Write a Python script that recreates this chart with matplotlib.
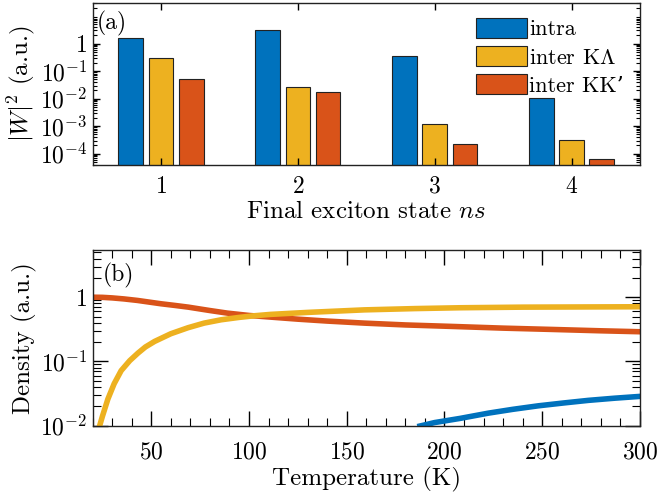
import numpy as np
import matplotlib
matplotlib.use("Agg")
import matplotlib.pyplot as plt
from matplotlib.ticker import FixedLocator, LogLocator, NullFormatter, MultipleLocator

plt.rcParams['font.family'] = ['cmr10', 'DejaVu Serif']
plt.rcParams['mathtext.fontset'] = 'cm'
plt.rcParams['axes.unicode_minus'] = False
plt.rcParams['axes.formatter.use_mathtext'] = True

# ---- Panel (a) data ----
states = [1, 2, 3, 4]
series_names = ['intra', r'inter K$\Lambda$', 'inter KK\u2019']
intra = [1.6, 3.0, 0.35, 0.0103]
inter_KL = [0.29, 0.026, 1.2e-3, 3.2e-4]
inter_KKp = [0.053, 0.0175, 2.2e-4, 6.3e-5]

# ---- Panel (b) data ----
T_red = [20, 25, 30, 36, 43, 50, 55, 62, 69, 75, 80, 89, 95, 100, 111, 125, 140, 159, 180, 205, 230, 255, 280, 300]
n_red = [1.0, 0.995, 0.975, 0.94, 0.89, 0.83, 0.79, 0.745, 0.70, 0.655, 0.62, 0.565, 0.54, 0.52, 0.49, 0.455, 0.425, 0.395, 0.37, 0.35, 0.33, 0.315, 0.30, 0.29]
T_yel = [23.6, 25, 27.8, 31, 34.6, 39, 43.2, 47, 51.7, 60, 68.8, 77, 85.7, 95, 103, 111, 130, 159, 185, 208, 240, 270, 300]
n_yel = [0.01, 0.014, 0.026, 0.045, 0.072, 0.103, 0.135, 0.168, 0.205, 0.27, 0.335, 0.395, 0.445, 0.485, 0.515, 0.54, 0.58, 0.635, 0.665, 0.685, 0.70, 0.705, 0.71]
T_blu = [187.5, 195, 208, 222.5, 235, 248, 261, 273.6, 287, 300]
n_blu = [0.0099, 0.0112, 0.013, 0.0157, 0.018, 0.0204, 0.0226, 0.0248, 0.0268, 0.0286]

c_blue = '#0072BD'
c_yel = '#EDB120'
c_red = '#D95319'

fig = plt.figure(figsize=(6.57, 4.96), dpi=100)
ax1 = fig.add_axes([0.141, 0.668, 0.833, 0.326])
ax2 = fig.add_axes([0.141, 0.1417, 0.833, 0.354])

TICK_FS = 17
LAB_FS = 18

# ---- Panel (a) ----
x = np.array(states, dtype=float)
w = 0.18
off = 0.221
base = 1e-6
for vals, c, dx, name in [(intra, c_blue, -off, series_names[0]),
                          (inter_KL, c_yel, 0.0, series_names[1]),
                          (inter_KKp, c_red, off, series_names[2])]:
    v = np.array(vals)
    ax1.bar(x + dx, v - base, bottom=base, width=w, color=c, edgecolor='#222222',
            linewidth=0.8, label=name)
ax1.set_yscale('log')
ax1.set_ylim(4e-5, 30)
ax1.set_xlim(0.5, 4.5)
ax1.set_xticks(states)
ax1.set_xticklabels([f'${s}$' for s in states])
yt = [1e-4, 1e-3, 1e-2, 1e-1, 1]
ax1.yaxis.set_major_locator(FixedLocator(yt))
ax1.set_yticklabels([r'$10^{-4}$', r'$10^{-3}$', r'$10^{-2}$', r'$10^{-1}$', r'$1$'])
ax1.yaxis.set_minor_locator(LogLocator(base=10, subs=np.arange(2, 10), numticks=20))
ax1.yaxis.set_minor_formatter(NullFormatter())
ax1.tick_params(axis='both', which='both', direction='in', top=True, right=True, labelsize=TICK_FS)
ax1.tick_params(axis='both', which='major', length=5, width=1, pad=4)
ax1.tick_params(axis='both', which='minor', length=3, width=0.8)
ax1.tick_params(axis='x', which='major', pad=8)
ax1.set_xlabel(r'Final exciton state $ns$', fontsize=LAB_FS, labelpad=2)
ax1.set_ylabel(r'$|W|^2$ (a.u.)', fontsize=LAB_FS, labelpad=2)
ax1.text(0.008, 0.95, '(a)', transform=ax1.transAxes, fontsize=17, va='top', ha='left')
leg = ax1.legend(loc='upper right', bbox_to_anchor=(0.995, 0.99), frameon=False, fontsize=16,
                 handlelength=2.3, handleheight=1.0, handletextpad=0.1, labelspacing=0.3,
                 borderaxespad=0.2)

# ---- Panel (b) ----
ax2.plot(T_red, n_red, color=c_red, lw=4)
ax2.plot(T_yel, n_yel, color=c_yel, lw=4)
ax2.plot(T_blu, n_blu, color=c_blue, lw=4)
ax2.set_yscale('log')
ax2.set_ylim(0.01, 5.4)
ax2.set_xlim(20, 300)
ax2.set_xticks([50, 100, 150, 200, 250, 300])
ax2.set_xticklabels(['$50$', '$100$', '$150$', '$200$', '$250$', '$300$'])
ax2.xaxis.set_minor_locator(MultipleLocator(10))
ax2.yaxis.set_major_locator(FixedLocator([0.01, 0.1, 1]))
ax2.set_yticklabels([r'$10^{-2}$', r'$10^{-1}$', r'$1$'])
ax2.yaxis.set_minor_locator(LogLocator(base=10, subs=np.arange(2, 10), numticks=20))
ax2.yaxis.set_minor_formatter(NullFormatter())
ax2.tick_params(axis='both', which='both', direction='in', top=True, right=True, labelsize=TICK_FS)
ax2.tick_params(axis='both', which='major', length=11, width=1, pad=4)
ax2.tick_params(axis='both', which='minor', length=6, width=0.8)
ax2.tick_params(axis='x', which='major', pad=11)
ax2.set_xlabel('Temperature (K)', fontsize=LAB_FS, labelpad=3)
ax2.set_ylabel('Density (a.u.)', fontsize=LAB_FS, labelpad=2)
ax2.text(0.019, 0.93, '(b)', transform=ax2.transAxes, fontsize=17, va='top', ha='left')

for ax in (ax1, ax2):
    for s in ax.spines.values():
        s.set_linewidth(1.0)
        s.set_color('#222222')

fig.savefig('out.png', dpi=100)
